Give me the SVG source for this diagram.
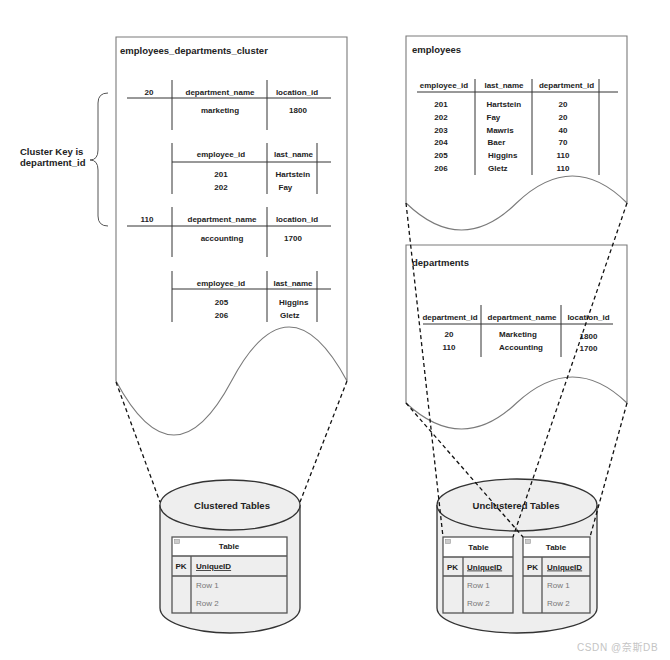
<svg xmlns="http://www.w3.org/2000/svg" width="670" height="660" viewBox="0 0 670 660">
<style>
text{font-family:"Liberation Sans",Arial,sans-serif;fill:#222}
.t{font-size:8px;font-weight:bold}
.c{text-anchor:middle}
.h{font-size:9.5px;font-weight:bold}
.doc{fill:#fff;stroke:#7a7a7a;stroke-width:1.1}
.tl{stroke:#333;stroke-width:1;fill:none}
.cyl{fill:#eeeeee;stroke:#333;stroke-width:1.3}
.tb{fill:none;stroke:#555;stroke-width:1.3}
.ic{fill:#ccc;stroke:#999;stroke-width:0.6}
.row{font-size:8px;fill:#777}
.dash{stroke:#111;stroke-width:1.3;stroke-dasharray:4 3;fill:none}
</style>
<rect width="670" height="660" fill="#fff"/>

<g id="cluster-doc">
<path class="doc" d="M116,37 H347 V381 Q289,273 231.5,381 Q174,489 116,381 Z"/>
<text class="h" x="120" y="53.5">employees_departments_cluster</text>
<g id="t-dept20">
<line class="tl" x1="127" y1="98" x2="331" y2="98"/>
<line class="tl" x1="172" y1="80" x2="172" y2="130"/>
<line class="tl" x1="267" y1="80" x2="267" y2="130"/>
<text class="t c" x="149" y="95">20</text>
<text class="t c" x="220" y="95">department_name</text>
<text class="t c" x="297" y="95">location_id</text>
<text class="t c" x="220" y="113">marketing</text>
<text class="t c" x="298" y="113">1800</text>
</g>
<g id="t-emp20">
<line class="tl" x1="172" y1="162" x2="331" y2="162"/>
<line class="tl" x1="172" y1="143" x2="172" y2="194"/>
<line class="tl" x1="267" y1="143" x2="267" y2="194"/>
<line class="tl" x1="317" y1="143" x2="317" y2="194"/>
<text class="t c" x="221" y="157">employee_id</text>
<text class="t c" x="293.5" y="157">last_name</text>
<text class="t c" x="221" y="177">201</text>
<text class="t c" x="221" y="190">202</text>
<text class="t" x="275.5" y="177">Hartstein</text>
<text class="t" x="278.5" y="190">Fay</text>
</g>
<g id="t-dept110">
<line class="tl" x1="127" y1="226" x2="331" y2="226"/>
<line class="tl" x1="172" y1="207" x2="172" y2="257"/>
<line class="tl" x1="267" y1="207" x2="267" y2="257"/>
<text class="t c" x="147" y="222">110</text>
<text class="t c" x="222" y="222">department_name</text>
<text class="t c" x="297" y="222">location_id</text>
<text class="t c" x="222" y="240.5">accounting</text>
<text class="t c" x="293" y="240.5">1700</text>
</g>
<g id="t-emp110">
<line class="tl" x1="172" y1="289" x2="331" y2="289"/>
<line class="tl" x1="172" y1="271" x2="172" y2="322"/>
<line class="tl" x1="267" y1="271" x2="267" y2="322"/>
<line class="tl" x1="317" y1="271" x2="317" y2="322"/>
<text class="t c" x="221" y="285.5">employee_id</text>
<text class="t c" x="293" y="285.5">last_name</text>
<text class="t c" x="221.5" y="305">205</text>
<text class="t c" x="221.5" y="318">206</text>
<text class="t" x="279" y="305">Higgins</text>
<text class="t" x="280" y="318">Gletz</text>
</g>
</g>

<g id="cluster-key">
<path d="M108,93 Q98,93 98,103 V150 Q98,160 90,160 Q98,160 98,170 V216 Q98,226 108,226" fill="none" stroke="#555" stroke-width="1"/>
<text class="h" x="20" y="155">Cluster Key is</text>
<text class="h" x="20" y="166">department_id</text>
</g>

<g id="employees-doc">
<path class="doc" d="M406,36 H627 V203 Q573,149 516.5,203 Q462,257 406,203 Z"/>
<text class="h" x="412" y="53">employees</text>
<line class="tl" x1="417" y1="92" x2="618" y2="92"/>
<line class="tl" x1="475" y1="79" x2="475" y2="175"/>
<line class="tl" x1="532" y1="79" x2="532" y2="175"/>
<line class="tl" x1="599" y1="79" x2="599" y2="175"/>
<text class="t c" x="444" y="88">employee_id</text>
<text class="t c" x="504" y="88">last_name</text>
<text class="t c" x="566.5" y="88">department_id</text>
<text class="t c" x="441" y="106.5">201</text>
<text class="t c" x="441" y="119.5">202</text>
<text class="t c" x="441" y="132.5">203</text>
<text class="t c" x="441" y="145">204</text>
<text class="t c" x="441" y="158">205</text>
<text class="t c" x="441" y="170.5">206</text>
<text class="t" x="486.5" y="106.5">Hartstein</text>
<text class="t" x="486.5" y="119.5">Fay</text>
<text class="t" x="486.5" y="132.5">Mawris</text>
<text class="t" x="487.5" y="145">Baer</text>
<text class="t" x="488" y="158">Higgins</text>
<text class="t" x="488" y="170.5">Gletz</text>
<text class="t c" x="563" y="106.5">20</text>
<text class="t c" x="563" y="119.5">20</text>
<text class="t c" x="563" y="132.5">40</text>
<text class="t c" x="563" y="145">70</text>
<text class="t c" x="563" y="158">110</text>
<text class="t c" x="563" y="170.5">110</text>
</g>

<g id="departments-doc">
<path class="doc" d="M406,245 H627 V403 Q573,351 516.5,403 Q462,455 406,403 Z"/>
<text class="h" x="412" y="266">departments</text>
<line class="tl" x1="423" y1="324" x2="613" y2="324"/>
<line class="tl" x1="481" y1="305" x2="481" y2="357"/>
<line class="tl" x1="561" y1="305" x2="561" y2="357"/>
<text class="t c" x="450" y="320">department_id</text>
<text class="t c" x="522" y="320">department_name</text>
<text class="t c" x="588.5" y="320">location_id</text>
<text class="t c" x="449" y="337">20</text>
<text class="t c" x="449" y="350">110</text>
<text class="t" x="499" y="337">Marketing</text>
<text class="t" x="499" y="350">Accounting</text>
<text class="t c" x="588.5" y="338.5">1800</text>
<text class="t c" x="588.5" y="351">1700</text>
</g>

<g id="clustered-tables">
<path class="cyl" d="M160,505 A70,25 0 0 1 300,505 V608 A70,25 0 0 1 160,608 Z"/>
<path class="cyl" d="M160,505 A70,25 0 0 0 300,505" fill="none"/>
<text class="h c" x="232" y="508.5">Clustered Tables</text>
<g id="ctable">
<rect x="172" y="537" width="115" height="76" fill="#eeeeee"/>
<rect x="172" y="537" width="115" height="19" fill="#fff"/>
<rect class="tb" x="172" y="537" width="115" height="76"/>
<line class="tb" x1="172" y1="556" x2="287" y2="556"/>
<line class="tb" x1="172" y1="576" x2="287" y2="576"/>
<line class="tb" x1="191" y1="556" x2="191" y2="613"/>
<rect class="ic" x="174.5" y="539.5" width="5" height="4"/>
<text class="t c" x="229" y="549">Table</text>
<text class="t c" x="181" y="569">PK</text>
<text class="t" x="196" y="569" text-decoration="underline">UniqueID</text>
<text class="row" x="196" y="587.5">Row 1</text>
<text class="row" x="196" y="606">Row 2</text>
</g>
</g>

<g id="unclustered-tables">
<path class="cyl" d="M437,505 A80,26 0 0 1 597,505 V608 A80,25 0 0 1 437,608 Z"/>
<path class="cyl" d="M437,505 A80,26 0 0 0 597,505" fill="none"/>
<text class="h c" x="516" y="508.5">Unclustered Tables</text>
<g id="utable1">
<rect x="443" y="537" width="70" height="76" fill="#eeeeee"/>
<rect x="443" y="537" width="70" height="20" fill="#fff"/>
<rect class="tb" x="443" y="537" width="70" height="76"/>
<line class="tb" x1="443" y1="557" x2="513" y2="557"/>
<line class="tb" x1="443" y1="576" x2="513" y2="576"/>
<line class="tb" x1="463" y1="557" x2="463" y2="613"/>
<rect class="ic" x="445.5" y="539.5" width="5" height="4"/>
<text class="t c" x="478.5" y="549.5">Table</text>
<text class="t c" x="452.5" y="569.5">PK</text>
<text class="t" x="467" y="569.5" text-decoration="underline">UniqueID</text>
<text class="row" x="467" y="587.5">Row 1</text>
<text class="row" x="467" y="606">Row 2</text>
</g>
<g id="utable2">
<rect x="523" y="537" width="67" height="76" fill="#eeeeee"/>
<rect x="523" y="537" width="67" height="20" fill="#fff"/>
<rect class="tb" x="523" y="537" width="67" height="76"/>
<line class="tb" x1="523" y1="557" x2="590" y2="557"/>
<line class="tb" x1="523" y1="576" x2="590" y2="576"/>
<line class="tb" x1="542" y1="557" x2="542" y2="613"/>
<rect class="ic" x="525.5" y="539.5" width="5" height="4"/>
<text class="t c" x="556" y="549.5">Table</text>
<text class="t c" x="532.5" y="569.5">PK</text>
<text class="t" x="547" y="569.5" text-decoration="underline">UniqueID</text>
<text class="row" x="547" y="587.5">Row 1</text>
<text class="row" x="547" y="606">Row 2</text>
</g>
</g>

<g id="connectors">
<line class="dash" x1="116" y1="382" x2="160" y2="502"/>
<line class="dash" x1="347" y1="381" x2="300" y2="502"/>
<line class="dash" x1="406" y1="203" x2="443" y2="537"/>
<line class="dash" x1="627" y1="203" x2="513" y2="537"/>
<line class="dash" x1="406" y1="403" x2="523" y2="537"/>
<line class="dash" x1="627" y1="403" x2="590" y2="537"/>
</g>

<text x="577" y="651" style="font-size:10px;fill:#c4c4c4;letter-spacing:0.6px;font-family:'Liberation Sans','Noto Sans CJK SC',sans-serif">CSDN @奈斯DB</text>
</svg>
